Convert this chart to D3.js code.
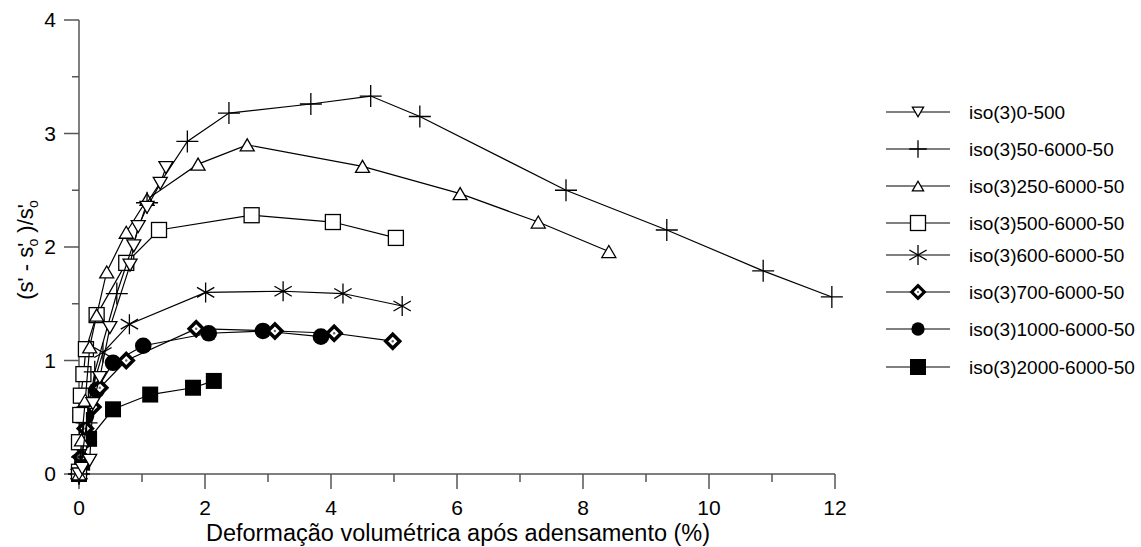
<!DOCTYPE html>
<html><head><meta charset="utf-8">
<script src="https://cdn.jsdelivr.net/npm/d3@7"></script>
<style>body{margin:0;background:#fff}svg{display:block;font-family:"Liberation Sans",Arial,sans-serif}</style>
</head><body><svg id="c" width="1141" height="547"></svg>
<script>
// ---- data ----
const seriesNames = ["iso(3)0-500","iso(3)50-6000-50","iso(3)250-6000-50","iso(3)500-6000-50","iso(3)600-6000-50","iso(3)700-6000-50","iso(3)1000-6000-50","iso(3)2000-6000-50"];
const markerTypes = ["tridown","plus","triup","square","star","diamond","circle","fsquare"];
const s1x = [0, 0.05, 0.17, 0.22, 0.33, 0.49, 0.81, 0.87, 0.94, 1.08, 1.29, 1.38];
const s1y = [0, 0.05, 0.12, 0.62, 0.85, 1.29, 1.84, 2.01, 2.18, 2.35, 2.56, 2.70];
const s2x = [0, 0.05, 0.12, 0.25, 0.6, 1.08, 1.72, 2.38, 3.68, 4.63, 5.41, 7.73, 9.33, 10.86, 11.95];
const s2y = [0, 0.15, 0.45, 0.9, 1.59, 2.39, 2.93, 3.18, 3.26, 3.33, 3.15, 2.50, 2.15, 1.79, 1.56];
const s3x = [0, 0.04, 0.1, 0.17, 0.28, 0.44, 0.75, 1.08, 1.89, 2.67, 4.5, 6.05, 7.29, 8.41];
const s3y = [0, 0.3, 0.65, 1.12, 1.40, 1.78, 2.13, 2.42, 2.73, 2.90, 2.71, 2.47, 2.22, 1.96];
const s4x = [0, 0.0, 0.02, 0.03, 0.07, 0.11, 0.28, 0.75, 1.27, 2.74, 4.03, 5.03];
const s4y = [0.02, 0.28, 0.52, 0.69, 0.88, 1.10, 1.40, 1.86, 2.15, 2.28, 2.22, 2.08];
const s5x = [0, 0.03, 0.1, 0.38, 0.8, 2.01, 3.24, 4.19, 5.13];
const s5y = [0, 0.2, 0.55, 1.07, 1.32, 1.60, 1.61, 1.59, 1.48];
const s6x = [0, 0.03, 0.1, 0.22, 0.33, 0.75, 1.86, 3.11, 4.05, 4.98];
const s6y = [0, 0.15, 0.4, 0.59, 0.76, 1.00, 1.28, 1.26, 1.24, 1.17];
const s7x = [0, 0.03, 0.11, 0.28, 0.54, 1.02, 2.06, 2.92, 3.84];
const s7y = [0, 0.27, 0.51, 0.74, 0.98, 1.13, 1.24, 1.26, 1.21];
const s8x = [0, 0.05, 0.16, 0.54, 1.13, 1.81, 2.14];
const s8y = [0, 0.1, 0.31, 0.57, 0.70, 0.76, 0.82];
const xTicks = [0, 2, 4, 6, 8, 10, 12];
const yTicks = [0, 1, 2, 3, 4];
const xTitle = "Deformação volumétrica após adensamento (%)";

const allX = [s1x,s2x,s3x,s4x,s5x,s6x,s7x,s8x];
const allY = [s1y,s2y,s3y,s4y,s5y,s6y,s7y,s8y];

// ---- layout ----
const svg = d3.select("#c");
const x = d3.scaleLinear().domain([0, 12]).range([79, 835]);
const y = d3.scaleLinear().domain([0, 4]).range([474, 20]);
const axisCol = "#555";

// axes
const gx = svg.append("g").attr("transform", `translate(0,${y(0)})`);
gx.append("line").attr("x1", x(0)).attr("x2", x(12)).attr("stroke", axisCol).attr("stroke-width", 1.5);
d3.range(0, 13, 1).forEach(v => {
  const major = xTicks.includes(v);
  gx.append("line").attr("x1", x(v)).attr("x2", x(v)).attr("y1", 0).attr("y2", major ? 15 : 8)
    .attr("stroke", axisCol).attr("stroke-width", 1.5);
});
xTicks.forEach(v => gx.append("text").attr("x", x(v)).attr("y", 41).attr("text-anchor", "middle")
  .attr("font-size", 21).text(v));

const gy = svg.append("g").attr("transform", `translate(${x(0)},0)`);
gy.append("line").attr("y1", y(0)).attr("y2", y(4)).attr("stroke", axisCol).attr("stroke-width", 1.5);
d3.range(0, 4.01, 0.5).forEach(v => {
  const major = Number.isInteger(v);
  gy.append("line").attr("x1", major ? -15 : -7).attr("x2", 0).attr("y1", y(v)).attr("y2", y(v))
    .attr("stroke", axisCol).attr("stroke-width", 1.5);
});
yTicks.forEach(v => gy.append("text").attr("x", -23).attr("y", y(v) + 7).attr("text-anchor", "end")
  .attr("font-size", 21).text(v));

svg.append("text").attr("x", 458).attr("y", 541).attr("text-anchor", "middle").attr("font-size", 23.5).text(xTitle);

const yt = svg.append("text").attr("transform", "translate(33,250) rotate(-90)").attr("text-anchor", "middle").attr("font-size", 22);
yt.append("tspan").text("(s' - s'");
yt.append("tspan").attr("dx", -4).attr("dy", 5).attr("font-size", 14).text("o");
yt.append("tspan").attr("dy", -5).text(" )/s'");
yt.append("tspan").attr("dx", -4).attr("dy", 5).attr("font-size", 14).text("o");

// ---- markers ----
function drawMarker(g, type, cx, cy, s) {
  const sw = 1.3;
  if (type === "tridown") {
    const w = 7 * s, h = 12 * s;
    g.append("path").attr("d", `M${cx-w},${cy-h/2}L${cx+w},${cy-h/2}L${cx},${cy+h/2}Z`).attr("fill", "#fff").attr("stroke", "#000").attr("stroke-width", sw);
  } else if (type === "triup") {
    const w = 7 * s, h = 12 * s;
    g.append("path").attr("d", `M${cx-w},${cy+h/2}L${cx+w},${cy+h/2}L${cx},${cy-h/2}Z`).attr("fill", "#fff").attr("stroke", "#000").attr("stroke-width", sw);
  } else if (type === "plus") {
    const r = 11 * s;
    g.append("path").attr("d", `M${cx-r},${cy}L${cx+r},${cy}M${cx},${cy-r}L${cx},${cy+r}`).attr("stroke", "#000").attr("stroke-width", sw);
  } else if (type === "square") {
    const r = 7.5 * s;
    g.append("rect").attr("x", cx-r).attr("y", cy-r).attr("width", 2*r).attr("height", 2*r).attr("fill", "#fff").attr("stroke", "#000").attr("stroke-width", sw);
  } else if (type === "fsquare") {
    const r = 8 * s;
    g.append("rect").attr("x", cx-r).attr("y", cy-r).attr("width", 2*r).attr("height", 2*r).attr("fill", "#000");
  } else if (type === "star") {
    const r = 10 * s;
    const a = Math.cos(Math.PI / 6) * r, b = Math.sin(Math.PI / 6) * r;
    g.append("path").attr("d", `M${cx},${cy-r}L${cx},${cy+r}M${cx-a},${cy-b}L${cx+a},${cy+b}M${cx+a},${cy-b}L${cx-a},${cy+b}`).attr("stroke", "#000").attr("stroke-width", sw);
  } else if (type === "diamond") {
    const r = 7 * s;
    g.append("path").attr("d", `M${cx},${cy-r}L${cx+r},${cy}L${cx},${cy+r}L${cx-r},${cy}Z`).attr("fill", "#fff").attr("stroke", "#000").attr("stroke-width", 3.5 * s);
    g.append("circle").attr("cx", cx).attr("cy", cy).attr("r", 1.2 * s).attr("fill", "#666");
  } else if (type === "circle") {
    g.append("circle").attr("cx", cx).attr("cy", cy).attr("r", 8.3 * s).attr("fill", "#000");
  }
}

const line = d3.line().x(d => x(d[0])).y(d => y(d[1]));
const plot = svg.append("g");
// draw series in reverse order so earlier series end on top
for (let i = allX.length - 1; i >= 0; i--) {
  const pts = allX[i].map((v, j) => [v, allY[i][j]]);
  const g = plot.append("g");
  g.append("path").attr("d", line(pts)).attr("fill", "none").attr("stroke", "#000").attr("stroke-width", 1.2);
  pts.forEach(p => drawMarker(g, markerTypes[i], x(p[0]), y(p[1]), 1));
}

// ---- legend ----
const legY = [112, 149, 186, 223, 255, 292, 329, 367];
const legScale = [0.8, 0.8, 0.8, 1, 1, 0.9, 0.8, 1];
const leg = svg.append("g");
seriesNames.forEach((n, i) => {
  const ly = legY[i];
  leg.append("line").attr("x1", 886).attr("x2", 950).attr("y1", ly).attr("y2", ly).attr("stroke", "#000").attr("stroke-width", 1.2);
  drawMarker(leg, markerTypes[i], 918, ly, legScale[i]);
  leg.append("text").attr("x", 969).attr("y", ly + 7).attr("font-size", 19).text(n);
});
</script></body></html>
